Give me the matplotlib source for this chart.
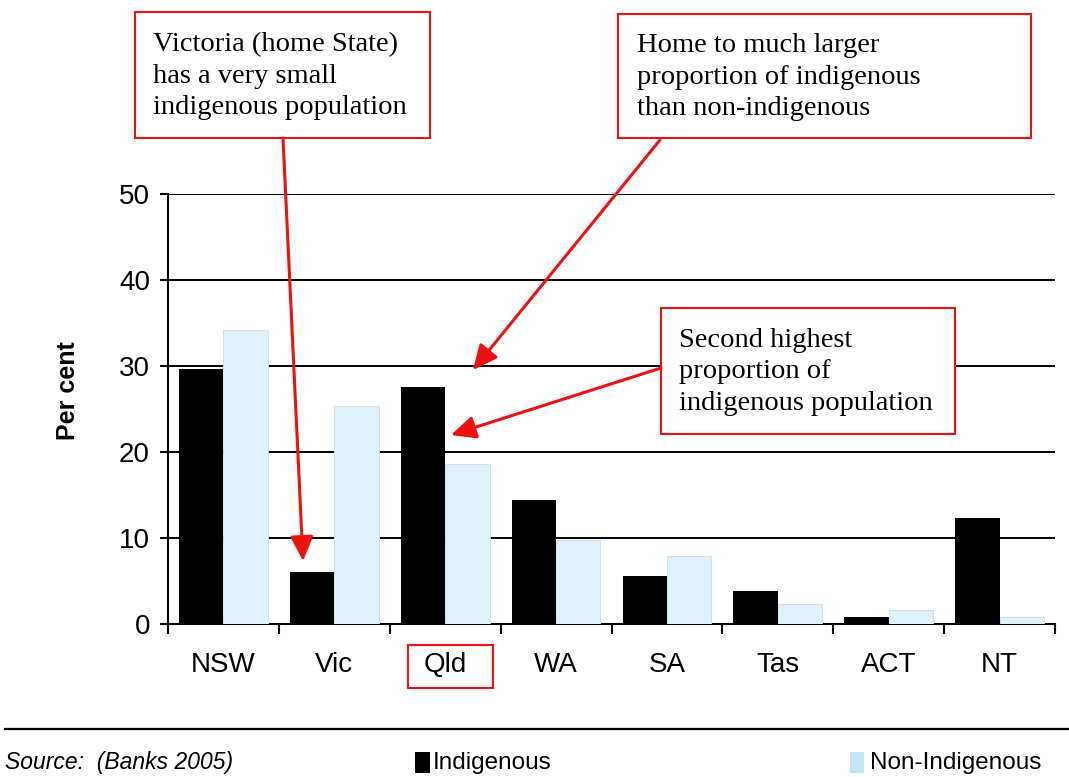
import numpy as np
import matplotlib.pyplot as plt
from matplotlib.patches import Rectangle, FancyArrowPatch

# 各州原住民 / 非原住民人口比例 (%)
states = ["NSW", "Vic", "Qld", "WA", "SA", "Tas", "ACT", "NT"]
indigenous = [29.6, 6.1, 27.6, 14.4, 5.6, 3.8, 0.85, 12.3]
non_indigenous = [34.2, 25.4, 18.6, 9.8, 7.9, 2.3, 1.6, 0.8]
y_ticks = [0, 10, 20, 30, 40, 50]

W, H = 1069, 777
sans = ['Liberation Sans', 'DejaVu Sans']
serif = ['Liberation Serif', 'DejaVu Serif']
light_blue = '#dff2f9'


def fx(x):
    return x / W


def fy(y):
    return 1 - y / H


fig = plt.figure(figsize=(W / 100, H / 100), dpi=100)
ax = fig.add_axes([fx(168), fy(624), (1055 - 168) / W, (624 - 194) / H])

x = np.arange(len(states))
bw = 0.4
ax.bar(x - bw / 2, indigenous, width=bw, color='black', zorder=3)
ax.bar(x + bw / 2, non_indigenous, width=bw, color=light_blue,
       edgecolor='#cfdde3', linewidth=0.6, zorder=3)

ax.set_xlim(-0.5, len(states) - 0.5)
ax.set_ylim(0, 50)
ax.set_yticks(y_ticks)
ax.set_yticklabels([str(v) for v in y_ticks], family=sans, fontsize=20)
ax.set_xticks(x)
ax.set_xticklabels(states, family=sans, fontsize=20)
ax.set_xticks(np.arange(-0.5, len(states)), minor=True)
ax.tick_params(axis='x', which='major', length=0, pad=20)
ax.tick_params(axis='x', which='minor', length=7, width=1.5, direction='out')
ax.tick_params(axis='y', length=6, width=1.5, pad=7)

for v in y_ticks[1:]:
    ax.axhline(v, color='black', lw=1.4, zorder=1)
for s in ['top', 'right']:
    ax.spines[s].set_visible(False)
for s in ['left', 'bottom']:
    ax.spines[s].set_linewidth(1.5)

fig.text(fx(68), fy(391), 'Per cent', family=sans, fontsize=18,
         fontweight='bold', rotation=90, ha='center', va='center')

# 說明框
boxes = [
    (135, 12, 430, 138, 153, "Victoria (home State)\nhas a very small\nindigenous population"),
    (618, 14, 1031, 138, 637, "Home to much larger\nproportion of indigenous\nthan non-indigenous"),
    (661, 308, 955, 434, 679, "Second highest\nproportion of\nindigenous population"),
]
for x0, y0, x1, y1, tx, txt in boxes:
    fig.add_artist(Rectangle((fx(x0), fy(y1)), fx(x1 - x0), (y1 - y0) / H,
                             transform=fig.transFigure, facecolor='white',
                             edgecolor='#ee1111', lw=1.5, zorder=5))
    fig.text(fx(tx), fy((y0 + y1) / 2 + 1), txt, family=serif, fontsize=20.5,
             va='center', ha='left', linespacing=1.35, zorder=6)

# Qld 標籤框
fig.add_artist(Rectangle((fx(408), fy(688)), fx(493 - 408), (688 - 645) / H,
                         transform=fig.transFigure, facecolor='none',
                         edgecolor='#ee1111', lw=1.5, zorder=5))

# 紅色箭頭
arrows = [((283, 138), (303, 561)), ((660, 140), (473, 370)), ((661, 368), (451, 435))]
for (sx, sy), (ex, ey) in arrows:
    fig.add_artist(FancyArrowPatch((fx(sx), fy(sy)), (fx(ex), fy(ey)),
                                   transform=fig.transFigure,
                                   arrowstyle='-|>,head_length=0.75,head_width=0.35',
                                   mutation_scale=20, color='#ee1111', lw=2.2,
                                   shrinkA=0, shrinkB=0, zorder=7))

# 底部分隔線、來源與圖例
fig.add_artist(plt.Line2D([fx(5), 1], [fy(729), fy(729)], transform=fig.transFigure,
                          color='black', lw=1.6))
fig.text(fx(5), fy(763), 'Source:  (Banks 2005)', family=sans, fontsize=16.5,
         style='italic', va='center', ha='left')
fig.add_artist(Rectangle((fx(415), fy(773)), fx(15), 21 / H, transform=fig.transFigure,
                         facecolor='black', edgecolor='none'))
fig.text(fx(433), fy(763), 'Indigenous', family=sans, fontsize=17.5, va='center', ha='left')
fig.add_artist(Rectangle((fx(850), fy(773)), fx(14), 21 / H, transform=fig.transFigure,
                         facecolor='#bfe6f2', edgecolor='none'))
fig.text(fx(870), fy(763), 'Non-Indigenous', family=sans, fontsize=17.5, va='center', ha='left')

fig.savefig('out.png', dpi=100)
